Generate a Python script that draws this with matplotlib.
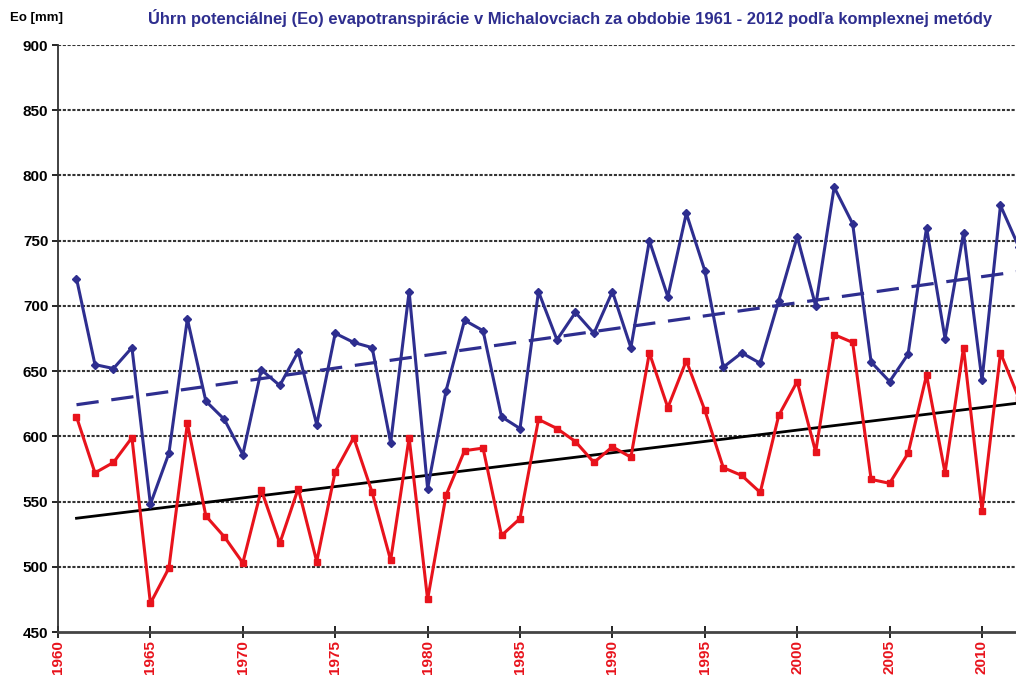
import numpy as np
import matplotlib
matplotlib.use("Agg")
import matplotlib.pyplot as plt

years = list(range(1961, 2013))
eo_blue = [721, 655, 652, 668, 548, 587, 690, 627, 613, 586,
           651, 639, 665, 609, 679, 672, 668, 595, 711, 560,
           635, 689, 681, 615, 606, 711, 674, 695, 679, 711,
           668, 750, 707, 771, 727, 653, 664, 656, 704, 753,
           700, 791, 763, 657, 642, 663, 760, 675, 756, 643,
           777, 745]
eo_red = [615, 572, 580, 599, 472, 499, 610, 539, 523, 503,
          559, 518, 560, 504, 573, 599, 557, 505, 599, 475,
          555, 589, 591, 524, 537, 613, 606, 596, 580, 592,
          584, 664, 622, 658, 620, 576, 570, 557, 616, 642,
          588, 678, 672, 567, 564, 587, 647, 572, 668, 543,
          664, 629]
yticks = [450, 500, 550, 600, 650, 700, 750, 800, 850, 900]
xticks = [1960, 1965, 1970, 1975, 1980, 1985, 1990, 1995, 2000, 2005, 2010]
title = "Úhrn potenciálnej (Eo) evapotranspirácie v Michalovciach za obdobie 1961 - 2012 podľa komplexnej metódy"
ylabel = "Eo [mm]"

BLUE = "#2E2E8F"
RED = "#E8131C"

plt.rcParams['font.family'] = ['Liberation Sans', 'DejaVu Sans']

fig = plt.figure(figsize=(10.16, 6.79), dpi=100)
ax = fig.add_axes([0.0571, 0.0692, 1.0 - 0.0571, 0.9337 - 0.0692])

x = np.array(years, dtype=float)
yb = np.array(eo_blue, dtype=float)
yr = np.array(eo_red, dtype=float)

# trend lines (least squares)
xt = np.array([1961, 2013], dtype=float)
pb = np.polyfit(x, yb, 1)
pr = np.polyfit(x, yr, 1)
ax.plot(xt, np.polyval(pb, xt), color=BLUE, lw=2.3, ls=(0, (7, 4)), zorder=3)
ax.plot(xt, np.polyval(pr, xt), color="black", lw=2.0, zorder=3)

ax.plot(x, yb, color=BLUE, lw=2.2, marker="D", ms=4.5, zorder=4)
ax.plot(x, yr, color=RED, lw=2.2, marker="s", ms=4, zorder=4)

ax.set_xlim(1960, 2011.84)
ax.set_ylim(450, 900)
ax.set_yticks(yticks)
ax.set_xticks(xticks)
ax.set_xticklabels([str(v) for v in xticks], rotation=90, color=RED,
                   fontsize=11, fontweight="bold")
ax.set_yticklabels([str(v) for v in yticks], fontsize=11, fontweight="bold")
for yv in yticks[1:]:
    ax.axhline(yv, color="#333333", lw=1.5, ls=(0, (1.5, 0.8)), zorder=1)

for s in ["top", "right"]:
    ax.spines[s].set_visible(False)
ax.spines["left"].set_color("#333333")
ax.spines["left"].set_linewidth(1.3)
ax.spines["bottom"].set_color("#444444")
ax.spines["bottom"].set_linewidth(2.0)
ax.tick_params(axis="y", direction="out", length=4, width=1.2, pad=3)
ax.tick_params(axis="x", direction="inout", length=8, width=1.2, pad=2)

fig.text(0.010, 0.973, ylabel, fontsize=9.5, fontweight="bold", ha="left", va="center")
fig.text(0.146, 0.973, title, fontsize=11.9, fontweight="bold", color=BLUE,
         ha="left", va="center")

fig.savefig("out.png", dpi=100)
